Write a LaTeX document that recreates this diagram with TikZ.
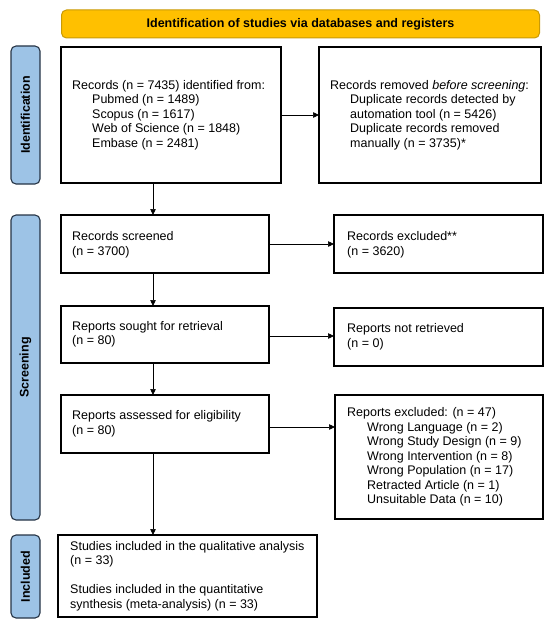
\documentclass[tikz,border=0pt]{standalone}
\usepackage{fontspec}
\setmainfont{Liberation Sans}
\usetikzlibrary{arrows.meta}
\definecolor{gold}{HTML}{FFC000}
\definecolor{goldline}{HTML}{C99A06}
\definecolor{sideblue}{HTML}{9DC3E6}
\definecolor{sideline}{HTML}{263445}
\begin{document}
\begin{tikzpicture}[x=1pt,y=-1pt,
  every node/.style={font=\fontsize{12.5}{14.5}\selectfont},
  box/.style={draw=black, line width=1.1pt, rectangle, anchor=north west, inner sep=0pt, outer sep=0pt},
  txt/.style={anchor=west, align=left, inner sep=0pt},
  arr/.style={-{Triangle[length=6pt,width=5.5pt]}, line width=0.7pt},
  side/.style={draw=sideline, fill=sideblue, line width=1.1pt, rounded corners=5pt, rotate=90, inner sep=0pt, minimum height=29pt, font=\bfseries\fontsize{12.5}{14.5}\selectfont}
]
\useasboundingbox (0,0) rectangle (550,626);

\node[draw=goldline, fill=gold, rounded corners=5pt, line width=1pt, minimum width=478pt, minimum height=28pt, inner sep=0pt, font=\bfseries\fontsize{12.5}{14.5}\selectfont] (hdr) at (300.5,24) {Identification of studies via databases and registers};

\node[side, minimum width=138pt] (sideI) at (25.5,115) {Identification};
\node[side, minimum width=305pt] (sideS) at (25.5,367.5) {Screening};
\node[side, minimum width=83pt] (sideN) at (25.5,576.5) {Included};

% boxes
\node[box, minimum width=220pt, minimum height=136pt] (rec) at (61,47) {};
\node[box, minimum width=222pt, minimum height=136pt] (rem) at (319,47) {};
\node[box, minimum width=208pt, minimum height=58pt] (scr) at (61,215) {};
\node[box, minimum width=209pt, minimum height=58pt] (exA) at (334,215) {};
\node[box, minimum width=208pt, minimum height=57pt] (sou) at (61,306) {};
\node[box, minimum width=209pt, minimum height=58pt] (notr) at (334,308) {};
\node[box, minimum width=208pt, minimum height=58pt] (ass) at (61,395) {};
\node[box, minimum width=208pt, minimum height=124pt] (exB) at (335,395) {};
\node[box, minimum width=259pt, minimum height=82pt] (inc) at (58,535) {};

% texts
\node[txt] (recT) at ([xshift=11pt]rec.west) {Records (n = 7435) identified from:\\
\hspace*{20pt}Pubmed (n = 1489)\\
\hspace*{20pt}Scopus (n = 1617)\\
\hspace*{20pt}Web of Science (n = 1848)\\
\hspace*{20pt}Embase (n = 2481)};

\node[txt] (remT) at ([xshift=11pt]rem.west) {Records removed \textit{before screening}:\\
\hspace*{20pt}Duplicate records detected by\\
\hspace*{20pt}automation tool (n = 5426)\\
\hspace*{20pt}Duplicate records removed\\
\hspace*{20pt}manually (n = 3735)*};

\node[txt] (scrT) at ([xshift=11pt,yshift=-1pt]scr.west) {Records screened\\(n = 3700)};
\node[txt] (exAT) at ([xshift=13pt,yshift=-1pt]exA.west) {Records excluded**\\(n = 3620)};
\node[txt] (souT) at ([xshift=11pt]sou.west) {Reports sought for retrieval\\(n = 80)};
\node[txt] (notrT) at ([xshift=13pt]notr.west) {Reports not retrieved\\(n = 0)};
\node[txt] (assT) at ([xshift=11pt]ass.west) {Reports assessed for eligibility\\(n = 80)};
\node[txt] (exBT) at ([xshift=12pt]exB.west) {Reports excluded: (n = 47)\\
\hspace*{20pt}Wrong Language (n = 2)\\
\hspace*{20pt}Wrong Study Design (n = 9)\\
\hspace*{20pt}Wrong Intervention (n = 8)\\
\hspace*{20pt}Wrong Population (n = 17)\\
\hspace*{20pt}Retracted Article (n = 1)\\
\hspace*{20pt}Unsuitable Data (n = 10)};
\node[txt] (incT) at ([xshift=12pt]inc.west) {Studies included in the qualitative analysis\\(n = 33)\\[14.5pt]Studies included in the quantitative\\synthesis (meta-analysis) (n = 33)};

% connectors
\coordinate (vx) at (153,0);
\draw[arr] (rec.south -| vx) -- (scr.north -| vx);
\draw[arr] (scr.south -| vx) -- (sou.north -| vx);
\draw[arr] (sou.south -| vx) -- (ass.north -| vx);
\draw[arr] (ass.south -| vx) -- (inc.north -| vx);

\draw[arr] (rec.east) -- (rem.west);
\draw[arr] (scr.east) -- (scr.east -| exA.west);
\draw[arr] ([yshift=-1.5pt]sou.east) -- ([yshift=-1.5pt]sou.east -| notr.west);
\draw[arr] ([yshift=-3pt]ass.east) -- ([yshift=-3pt]ass.east -| exB.west);
\end{tikzpicture}
\end{document}
